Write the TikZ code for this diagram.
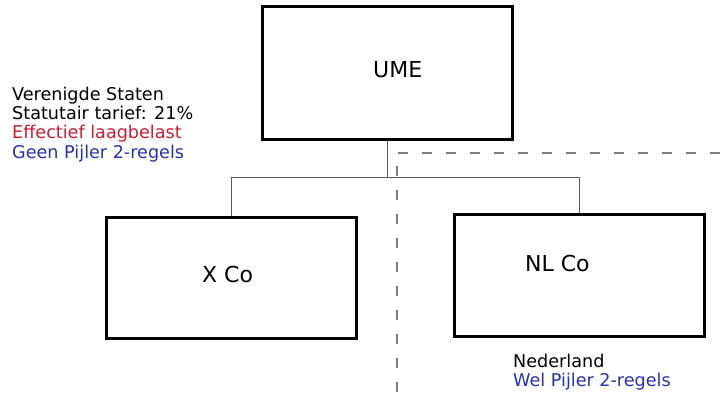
\documentclass[tikz,border=0pt]{standalone}
\usepackage{fontspec}
\setmainfont{DejaVu Sans}
\definecolor{txtred}{RGB}{200,30,50}
\definecolor{txtblue}{RGB}{40,50,170}
\definecolor{conngray}{RGB}{90,90,90}
\definecolor{dashgray}{RGB}{125,125,125}
\begin{document}
\begin{tikzpicture}[x=1pt,y=-1pt,
  entity/.style={draw=black,line width=3pt,fill=white,inner sep=0pt},
  boxlabel/.style={anchor=base west,inner sep=0pt,font=\fontsize{22}{24}\selectfont},
  note/.style={anchor=base west,inner sep=0pt,font=\fontsize{17.6}{19}\selectfont},
  conn/.style={draw=conngray,line width=0.9pt},
  border/.style={draw=dashgray,line width=2pt,dash pattern=on 10pt off 14pt}]
\useasboundingbox[fill=white] (0,0) rectangle (720,393);
% jurisdiction border
\coordinate (bstart) at (397,153);
\coordinate (bright) at (720,153);
\coordinate (bbottom) at (397,393);
\draw[border] (bright) -- (bstart) -- (bbottom);
% entities
\node[entity,minimum width=250pt,minimum height=133pt] (UME) at (387,73.5) {};
\node[entity,minimum width=250pt,minimum height=121pt] (XCo) at (231,277.5) {};
\node[entity,minimum width=250pt,minimum height=122pt] (NLCo) at (579,275) {};
\node[boxlabel] (umelbl) at (373,78) {UME};
\node[boxlabel] (xcolbl) at (202,282) {X Co};
\node[boxlabel] (nlcolbl) at (525,271) {NL Co};
% connectors
\coordinate (bus) at (387,177);
\draw[conn] (UME.south) -- (bus);
\draw[conn] (bus) -| (XCo.north);
\draw[conn] (bus) -| (NLCo.north);
% notes
\node[note] (us1) at (12,101) {Verenigde Staten};
\node[note] (us2) at (12,120) {Statutair tarief: 21\%};
\node[note,text=txtred] (us3) at (12,139) {Effectief laagbelast};
\node[note,text=txtblue] (us4) at (12,158) {Geen Pijler 2-regels};
\node[note] (nl1) at (513,367) {Nederland};
\node[note,text=txtblue] (nl2) at (513,386) {Wel Pijler 2-regels};
\end{tikzpicture}
\end{document}
